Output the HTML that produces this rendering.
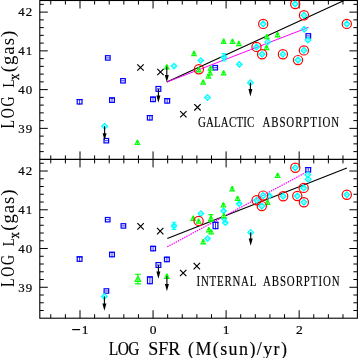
<!DOCTYPE html>
<html><head><meta charset="utf-8"><style>
html,body{margin:0;padding:0;background:#fff;width:358px;height:358px;overflow:hidden}
svg{display:block}
text{font-family:"Liberation Serif",serif}
</style></head><body>
<svg width="358" height="358" viewBox="0 0 358 358" shape-rendering="auto">
<rect width="358" height="358" fill="#fff"/>
<rect x="39.8" y="0.5" width="317.59999999999997" height="317.7" fill="none" stroke="#000" stroke-width="1.1"/>
<line x1="39.80" y1="159.40" x2="357.40" y2="159.40" stroke="#000" stroke-width="1.1" />
<line x1="50.78" y1="0.50" x2="50.78" y2="4.50" stroke="#000" stroke-width="1.0" />
<line x1="50.78" y1="159.40" x2="50.78" y2="155.40" stroke="#000" stroke-width="1.0" />
<line x1="50.78" y1="159.40" x2="50.78" y2="163.40" stroke="#000" stroke-width="1.0" />
<line x1="50.78" y1="318.20" x2="50.78" y2="314.20" stroke="#000" stroke-width="1.0" />
<line x1="65.39" y1="0.50" x2="65.39" y2="4.50" stroke="#000" stroke-width="1.0" />
<line x1="65.39" y1="159.40" x2="65.39" y2="155.40" stroke="#000" stroke-width="1.0" />
<line x1="65.39" y1="159.40" x2="65.39" y2="163.40" stroke="#000" stroke-width="1.0" />
<line x1="65.39" y1="318.20" x2="65.39" y2="314.20" stroke="#000" stroke-width="1.0" />
<line x1="80.00" y1="0.50" x2="80.00" y2="8.50" stroke="#000" stroke-width="1.0" />
<line x1="80.00" y1="159.40" x2="80.00" y2="151.40" stroke="#000" stroke-width="1.0" />
<line x1="80.00" y1="159.40" x2="80.00" y2="167.40" stroke="#000" stroke-width="1.0" />
<line x1="80.00" y1="318.20" x2="80.00" y2="310.20" stroke="#000" stroke-width="1.0" />
<line x1="94.61" y1="0.50" x2="94.61" y2="4.50" stroke="#000" stroke-width="1.0" />
<line x1="94.61" y1="159.40" x2="94.61" y2="155.40" stroke="#000" stroke-width="1.0" />
<line x1="94.61" y1="159.40" x2="94.61" y2="163.40" stroke="#000" stroke-width="1.0" />
<line x1="94.61" y1="318.20" x2="94.61" y2="314.20" stroke="#000" stroke-width="1.0" />
<line x1="109.22" y1="0.50" x2="109.22" y2="4.50" stroke="#000" stroke-width="1.0" />
<line x1="109.22" y1="159.40" x2="109.22" y2="155.40" stroke="#000" stroke-width="1.0" />
<line x1="109.22" y1="159.40" x2="109.22" y2="163.40" stroke="#000" stroke-width="1.0" />
<line x1="109.22" y1="318.20" x2="109.22" y2="314.20" stroke="#000" stroke-width="1.0" />
<line x1="123.83" y1="0.50" x2="123.83" y2="4.50" stroke="#000" stroke-width="1.0" />
<line x1="123.83" y1="159.40" x2="123.83" y2="155.40" stroke="#000" stroke-width="1.0" />
<line x1="123.83" y1="159.40" x2="123.83" y2="163.40" stroke="#000" stroke-width="1.0" />
<line x1="123.83" y1="318.20" x2="123.83" y2="314.20" stroke="#000" stroke-width="1.0" />
<line x1="138.44" y1="0.50" x2="138.44" y2="4.50" stroke="#000" stroke-width="1.0" />
<line x1="138.44" y1="159.40" x2="138.44" y2="155.40" stroke="#000" stroke-width="1.0" />
<line x1="138.44" y1="159.40" x2="138.44" y2="163.40" stroke="#000" stroke-width="1.0" />
<line x1="138.44" y1="318.20" x2="138.44" y2="314.20" stroke="#000" stroke-width="1.0" />
<line x1="153.05" y1="0.50" x2="153.05" y2="8.50" stroke="#000" stroke-width="1.0" />
<line x1="153.05" y1="159.40" x2="153.05" y2="151.40" stroke="#000" stroke-width="1.0" />
<line x1="153.05" y1="159.40" x2="153.05" y2="167.40" stroke="#000" stroke-width="1.0" />
<line x1="153.05" y1="318.20" x2="153.05" y2="310.20" stroke="#000" stroke-width="1.0" />
<line x1="167.66" y1="0.50" x2="167.66" y2="4.50" stroke="#000" stroke-width="1.0" />
<line x1="167.66" y1="159.40" x2="167.66" y2="155.40" stroke="#000" stroke-width="1.0" />
<line x1="167.66" y1="159.40" x2="167.66" y2="163.40" stroke="#000" stroke-width="1.0" />
<line x1="167.66" y1="318.20" x2="167.66" y2="314.20" stroke="#000" stroke-width="1.0" />
<line x1="182.27" y1="0.50" x2="182.27" y2="4.50" stroke="#000" stroke-width="1.0" />
<line x1="182.27" y1="159.40" x2="182.27" y2="155.40" stroke="#000" stroke-width="1.0" />
<line x1="182.27" y1="159.40" x2="182.27" y2="163.40" stroke="#000" stroke-width="1.0" />
<line x1="182.27" y1="318.20" x2="182.27" y2="314.20" stroke="#000" stroke-width="1.0" />
<line x1="196.88" y1="0.50" x2="196.88" y2="4.50" stroke="#000" stroke-width="1.0" />
<line x1="196.88" y1="159.40" x2="196.88" y2="155.40" stroke="#000" stroke-width="1.0" />
<line x1="196.88" y1="159.40" x2="196.88" y2="163.40" stroke="#000" stroke-width="1.0" />
<line x1="196.88" y1="318.20" x2="196.88" y2="314.20" stroke="#000" stroke-width="1.0" />
<line x1="211.49" y1="0.50" x2="211.49" y2="4.50" stroke="#000" stroke-width="1.0" />
<line x1="211.49" y1="159.40" x2="211.49" y2="155.40" stroke="#000" stroke-width="1.0" />
<line x1="211.49" y1="159.40" x2="211.49" y2="163.40" stroke="#000" stroke-width="1.0" />
<line x1="211.49" y1="318.20" x2="211.49" y2="314.20" stroke="#000" stroke-width="1.0" />
<line x1="226.10" y1="0.50" x2="226.10" y2="8.50" stroke="#000" stroke-width="1.0" />
<line x1="226.10" y1="159.40" x2="226.10" y2="151.40" stroke="#000" stroke-width="1.0" />
<line x1="226.10" y1="159.40" x2="226.10" y2="167.40" stroke="#000" stroke-width="1.0" />
<line x1="226.10" y1="318.20" x2="226.10" y2="310.20" stroke="#000" stroke-width="1.0" />
<line x1="240.71" y1="0.50" x2="240.71" y2="4.50" stroke="#000" stroke-width="1.0" />
<line x1="240.71" y1="159.40" x2="240.71" y2="155.40" stroke="#000" stroke-width="1.0" />
<line x1="240.71" y1="159.40" x2="240.71" y2="163.40" stroke="#000" stroke-width="1.0" />
<line x1="240.71" y1="318.20" x2="240.71" y2="314.20" stroke="#000" stroke-width="1.0" />
<line x1="255.32" y1="0.50" x2="255.32" y2="4.50" stroke="#000" stroke-width="1.0" />
<line x1="255.32" y1="159.40" x2="255.32" y2="155.40" stroke="#000" stroke-width="1.0" />
<line x1="255.32" y1="159.40" x2="255.32" y2="163.40" stroke="#000" stroke-width="1.0" />
<line x1="255.32" y1="318.20" x2="255.32" y2="314.20" stroke="#000" stroke-width="1.0" />
<line x1="269.93" y1="0.50" x2="269.93" y2="4.50" stroke="#000" stroke-width="1.0" />
<line x1="269.93" y1="159.40" x2="269.93" y2="155.40" stroke="#000" stroke-width="1.0" />
<line x1="269.93" y1="159.40" x2="269.93" y2="163.40" stroke="#000" stroke-width="1.0" />
<line x1="269.93" y1="318.20" x2="269.93" y2="314.20" stroke="#000" stroke-width="1.0" />
<line x1="284.54" y1="0.50" x2="284.54" y2="4.50" stroke="#000" stroke-width="1.0" />
<line x1="284.54" y1="159.40" x2="284.54" y2="155.40" stroke="#000" stroke-width="1.0" />
<line x1="284.54" y1="159.40" x2="284.54" y2="163.40" stroke="#000" stroke-width="1.0" />
<line x1="284.54" y1="318.20" x2="284.54" y2="314.20" stroke="#000" stroke-width="1.0" />
<line x1="299.15" y1="0.50" x2="299.15" y2="8.50" stroke="#000" stroke-width="1.0" />
<line x1="299.15" y1="159.40" x2="299.15" y2="151.40" stroke="#000" stroke-width="1.0" />
<line x1="299.15" y1="159.40" x2="299.15" y2="167.40" stroke="#000" stroke-width="1.0" />
<line x1="299.15" y1="318.20" x2="299.15" y2="310.20" stroke="#000" stroke-width="1.0" />
<line x1="313.76" y1="0.50" x2="313.76" y2="4.50" stroke="#000" stroke-width="1.0" />
<line x1="313.76" y1="159.40" x2="313.76" y2="155.40" stroke="#000" stroke-width="1.0" />
<line x1="313.76" y1="159.40" x2="313.76" y2="163.40" stroke="#000" stroke-width="1.0" />
<line x1="313.76" y1="318.20" x2="313.76" y2="314.20" stroke="#000" stroke-width="1.0" />
<line x1="328.37" y1="0.50" x2="328.37" y2="4.50" stroke="#000" stroke-width="1.0" />
<line x1="328.37" y1="159.40" x2="328.37" y2="155.40" stroke="#000" stroke-width="1.0" />
<line x1="328.37" y1="159.40" x2="328.37" y2="163.40" stroke="#000" stroke-width="1.0" />
<line x1="328.37" y1="318.20" x2="328.37" y2="314.20" stroke="#000" stroke-width="1.0" />
<line x1="342.98" y1="0.50" x2="342.98" y2="4.50" stroke="#000" stroke-width="1.0" />
<line x1="342.98" y1="159.40" x2="342.98" y2="155.40" stroke="#000" stroke-width="1.0" />
<line x1="342.98" y1="159.40" x2="342.98" y2="163.40" stroke="#000" stroke-width="1.0" />
<line x1="342.98" y1="318.20" x2="342.98" y2="314.20" stroke="#000" stroke-width="1.0" />
<line x1="39.80" y1="151.62" x2="43.80" y2="151.62" stroke="#000" stroke-width="1.0" />
<line x1="357.40" y1="151.62" x2="353.40" y2="151.62" stroke="#000" stroke-width="1.0" />
<line x1="39.80" y1="143.87" x2="43.80" y2="143.87" stroke="#000" stroke-width="1.0" />
<line x1="357.40" y1="143.87" x2="353.40" y2="143.87" stroke="#000" stroke-width="1.0" />
<line x1="39.80" y1="136.12" x2="43.80" y2="136.12" stroke="#000" stroke-width="1.0" />
<line x1="357.40" y1="136.12" x2="353.40" y2="136.12" stroke="#000" stroke-width="1.0" />
<line x1="39.80" y1="128.37" x2="47.80" y2="128.37" stroke="#000" stroke-width="1.0" />
<line x1="357.40" y1="128.37" x2="349.40" y2="128.37" stroke="#000" stroke-width="1.0" />
<line x1="39.80" y1="120.62" x2="43.80" y2="120.62" stroke="#000" stroke-width="1.0" />
<line x1="357.40" y1="120.62" x2="353.40" y2="120.62" stroke="#000" stroke-width="1.0" />
<line x1="39.80" y1="112.87" x2="43.80" y2="112.87" stroke="#000" stroke-width="1.0" />
<line x1="357.40" y1="112.87" x2="353.40" y2="112.87" stroke="#000" stroke-width="1.0" />
<line x1="39.80" y1="105.12" x2="43.80" y2="105.12" stroke="#000" stroke-width="1.0" />
<line x1="357.40" y1="105.12" x2="353.40" y2="105.12" stroke="#000" stroke-width="1.0" />
<line x1="39.80" y1="97.38" x2="43.80" y2="97.38" stroke="#000" stroke-width="1.0" />
<line x1="357.40" y1="97.38" x2="353.40" y2="97.38" stroke="#000" stroke-width="1.0" />
<line x1="39.80" y1="89.62" x2="47.80" y2="89.62" stroke="#000" stroke-width="1.0" />
<line x1="357.40" y1="89.62" x2="349.40" y2="89.62" stroke="#000" stroke-width="1.0" />
<line x1="39.80" y1="81.87" x2="43.80" y2="81.87" stroke="#000" stroke-width="1.0" />
<line x1="357.40" y1="81.87" x2="353.40" y2="81.87" stroke="#000" stroke-width="1.0" />
<line x1="39.80" y1="74.12" x2="43.80" y2="74.12" stroke="#000" stroke-width="1.0" />
<line x1="357.40" y1="74.12" x2="353.40" y2="74.12" stroke="#000" stroke-width="1.0" />
<line x1="39.80" y1="66.37" x2="43.80" y2="66.37" stroke="#000" stroke-width="1.0" />
<line x1="357.40" y1="66.37" x2="353.40" y2="66.37" stroke="#000" stroke-width="1.0" />
<line x1="39.80" y1="58.62" x2="43.80" y2="58.62" stroke="#000" stroke-width="1.0" />
<line x1="357.40" y1="58.62" x2="353.40" y2="58.62" stroke="#000" stroke-width="1.0" />
<line x1="39.80" y1="50.87" x2="47.80" y2="50.87" stroke="#000" stroke-width="1.0" />
<line x1="357.40" y1="50.87" x2="349.40" y2="50.87" stroke="#000" stroke-width="1.0" />
<line x1="39.80" y1="43.12" x2="43.80" y2="43.12" stroke="#000" stroke-width="1.0" />
<line x1="357.40" y1="43.12" x2="353.40" y2="43.12" stroke="#000" stroke-width="1.0" />
<line x1="39.80" y1="35.37" x2="43.80" y2="35.37" stroke="#000" stroke-width="1.0" />
<line x1="357.40" y1="35.37" x2="353.40" y2="35.37" stroke="#000" stroke-width="1.0" />
<line x1="39.80" y1="27.62" x2="43.80" y2="27.62" stroke="#000" stroke-width="1.0" />
<line x1="357.40" y1="27.62" x2="353.40" y2="27.62" stroke="#000" stroke-width="1.0" />
<line x1="39.80" y1="19.88" x2="43.80" y2="19.88" stroke="#000" stroke-width="1.0" />
<line x1="357.40" y1="19.88" x2="353.40" y2="19.88" stroke="#000" stroke-width="1.0" />
<line x1="39.80" y1="12.12" x2="47.80" y2="12.12" stroke="#000" stroke-width="1.0" />
<line x1="357.40" y1="12.12" x2="349.40" y2="12.12" stroke="#000" stroke-width="1.0" />
<line x1="39.80" y1="4.37" x2="43.80" y2="4.37" stroke="#000" stroke-width="1.0" />
<line x1="357.40" y1="4.37" x2="353.40" y2="4.37" stroke="#000" stroke-width="1.0" />
<line x1="39.80" y1="310.52" x2="43.80" y2="310.52" stroke="#000" stroke-width="1.0" />
<line x1="357.40" y1="310.52" x2="353.40" y2="310.52" stroke="#000" stroke-width="1.0" />
<line x1="39.80" y1="302.77" x2="43.80" y2="302.77" stroke="#000" stroke-width="1.0" />
<line x1="357.40" y1="302.77" x2="353.40" y2="302.77" stroke="#000" stroke-width="1.0" />
<line x1="39.80" y1="295.02" x2="43.80" y2="295.02" stroke="#000" stroke-width="1.0" />
<line x1="357.40" y1="295.02" x2="353.40" y2="295.02" stroke="#000" stroke-width="1.0" />
<line x1="39.80" y1="287.27" x2="47.80" y2="287.27" stroke="#000" stroke-width="1.0" />
<line x1="357.40" y1="287.27" x2="349.40" y2="287.27" stroke="#000" stroke-width="1.0" />
<line x1="39.80" y1="279.52" x2="43.80" y2="279.52" stroke="#000" stroke-width="1.0" />
<line x1="357.40" y1="279.52" x2="353.40" y2="279.52" stroke="#000" stroke-width="1.0" />
<line x1="39.80" y1="271.77" x2="43.80" y2="271.77" stroke="#000" stroke-width="1.0" />
<line x1="357.40" y1="271.77" x2="353.40" y2="271.77" stroke="#000" stroke-width="1.0" />
<line x1="39.80" y1="264.02" x2="43.80" y2="264.02" stroke="#000" stroke-width="1.0" />
<line x1="357.40" y1="264.02" x2="353.40" y2="264.02" stroke="#000" stroke-width="1.0" />
<line x1="39.80" y1="256.27" x2="43.80" y2="256.27" stroke="#000" stroke-width="1.0" />
<line x1="357.40" y1="256.27" x2="353.40" y2="256.27" stroke="#000" stroke-width="1.0" />
<line x1="39.80" y1="248.52" x2="47.80" y2="248.52" stroke="#000" stroke-width="1.0" />
<line x1="357.40" y1="248.52" x2="349.40" y2="248.52" stroke="#000" stroke-width="1.0" />
<line x1="39.80" y1="240.77" x2="43.80" y2="240.77" stroke="#000" stroke-width="1.0" />
<line x1="357.40" y1="240.77" x2="353.40" y2="240.77" stroke="#000" stroke-width="1.0" />
<line x1="39.80" y1="233.02" x2="43.80" y2="233.02" stroke="#000" stroke-width="1.0" />
<line x1="357.40" y1="233.02" x2="353.40" y2="233.02" stroke="#000" stroke-width="1.0" />
<line x1="39.80" y1="225.27" x2="43.80" y2="225.27" stroke="#000" stroke-width="1.0" />
<line x1="357.40" y1="225.27" x2="353.40" y2="225.27" stroke="#000" stroke-width="1.0" />
<line x1="39.80" y1="217.53" x2="43.80" y2="217.53" stroke="#000" stroke-width="1.0" />
<line x1="357.40" y1="217.53" x2="353.40" y2="217.53" stroke="#000" stroke-width="1.0" />
<line x1="39.80" y1="209.77" x2="47.80" y2="209.77" stroke="#000" stroke-width="1.0" />
<line x1="357.40" y1="209.77" x2="349.40" y2="209.77" stroke="#000" stroke-width="1.0" />
<line x1="39.80" y1="202.02" x2="43.80" y2="202.02" stroke="#000" stroke-width="1.0" />
<line x1="357.40" y1="202.02" x2="353.40" y2="202.02" stroke="#000" stroke-width="1.0" />
<line x1="39.80" y1="194.27" x2="43.80" y2="194.27" stroke="#000" stroke-width="1.0" />
<line x1="357.40" y1="194.27" x2="353.40" y2="194.27" stroke="#000" stroke-width="1.0" />
<line x1="39.80" y1="186.52" x2="43.80" y2="186.52" stroke="#000" stroke-width="1.0" />
<line x1="357.40" y1="186.52" x2="353.40" y2="186.52" stroke="#000" stroke-width="1.0" />
<line x1="39.80" y1="178.78" x2="43.80" y2="178.78" stroke="#000" stroke-width="1.0" />
<line x1="357.40" y1="178.78" x2="353.40" y2="178.78" stroke="#000" stroke-width="1.0" />
<line x1="39.80" y1="171.02" x2="47.80" y2="171.02" stroke="#000" stroke-width="1.0" />
<line x1="357.40" y1="171.02" x2="349.40" y2="171.02" stroke="#000" stroke-width="1.0" />
<line x1="39.80" y1="163.27" x2="43.80" y2="163.27" stroke="#000" stroke-width="1.0" />
<line x1="357.40" y1="163.27" x2="353.40" y2="163.27" stroke="#000" stroke-width="1.0" />
<line x1="72.2" y1="329.6" x2="80.1" y2="329.6" stroke="#000" stroke-width="1.2"/>
<line x1="166.90" y1="82.00" x2="343.50" y2="0.70" stroke="#000" stroke-width="1.2" />
<line x1="166.90" y1="82.00" x2="308.60" y2="27.30" stroke="#ff00ff" stroke-width="1.0" />
<line x1="167.30" y1="238.50" x2="346.90" y2="168.00" stroke="#000" stroke-width="1.2" />
<line x1="167.30" y1="246.80" x2="306.10" y2="172.30" stroke="#ff00ff" stroke-width="1.3" stroke-dasharray="1.4,1.0"/>
<rect x="105.50" y="55.70" width="4.60" height="4.40" fill="none" stroke="#0000ff" stroke-width="1.2"/>
<line x1="106.00" y1="57.90" x2="109.60" y2="57.90" stroke="#0000ff" stroke-width="0.8"/>
<rect x="120.70" y="78.60" width="4.60" height="4.40" fill="none" stroke="#0000ff" stroke-width="1.2"/>
<line x1="121.20" y1="80.80" x2="124.80" y2="80.80" stroke="#0000ff" stroke-width="0.8"/>
<rect x="104.00" y="138.50" width="4.60" height="4.40" fill="none" stroke="#0000ff" stroke-width="1.2"/>
<line x1="104.50" y1="140.70" x2="108.10" y2="140.70" stroke="#0000ff" stroke-width="0.8"/>
<rect x="212.90" y="65.50" width="4.60" height="4.40" fill="none" stroke="#0000ff" stroke-width="1.2"/>
<line x1="213.40" y1="67.70" x2="217.00" y2="67.70" stroke="#0000ff" stroke-width="0.8"/>
<rect x="306.00" y="33.70" width="4.60" height="4.40" fill="none" stroke="#0000ff" stroke-width="1.2"/>
<line x1="306.50" y1="35.90" x2="310.10" y2="35.90" stroke="#0000ff" stroke-width="0.8"/>
<rect x="77.20" y="99.60" width="4.80" height="4.40" fill="none" stroke="#0000ff" stroke-width="1.2"/>
<line x1="79.60" y1="99.00" x2="79.60" y2="104.60" stroke="#0000ff" stroke-width="0.8"/>
<line x1="76.60" y1="99.50" x2="82.60" y2="99.50" stroke="#0000ff" stroke-width="1.0"/>
<rect x="109.60" y="98.00" width="4.80" height="4.40" fill="none" stroke="#0000ff" stroke-width="1.2"/>
<line x1="112.00" y1="97.40" x2="112.00" y2="103.00" stroke="#0000ff" stroke-width="0.8"/>
<line x1="109.00" y1="97.90" x2="115.00" y2="97.90" stroke="#0000ff" stroke-width="1.0"/>
<rect x="150.60" y="97.20" width="4.80" height="4.40" fill="none" stroke="#0000ff" stroke-width="1.2"/>
<line x1="153.00" y1="96.60" x2="153.00" y2="102.20" stroke="#0000ff" stroke-width="0.8"/>
<line x1="150.00" y1="97.10" x2="156.00" y2="97.10" stroke="#0000ff" stroke-width="1.0"/>
<rect x="164.80" y="98.70" width="4.80" height="4.40" fill="none" stroke="#0000ff" stroke-width="1.2"/>
<line x1="167.20" y1="98.10" x2="167.20" y2="103.70" stroke="#0000ff" stroke-width="0.8"/>
<line x1="164.20" y1="98.60" x2="170.20" y2="98.60" stroke="#0000ff" stroke-width="1.0"/>
<rect x="147.40" y="115.60" width="4.80" height="4.40" fill="none" stroke="#0000ff" stroke-width="1.2"/>
<line x1="149.80" y1="115.00" x2="149.80" y2="120.60" stroke="#0000ff" stroke-width="0.8"/>
<line x1="146.80" y1="115.50" x2="152.80" y2="115.50" stroke="#0000ff" stroke-width="1.0"/>
<rect x="156.00" y="86.50" width="4.8" height="4.8" fill="none" stroke="#0000ff" stroke-width="1.2"/>
<line x1="156.90" y1="88.90" x2="159.90" y2="88.90" stroke="#0000ff" stroke-width="0.9"/>
<line x1="158.40" y1="88.90" x2="158.40" y2="97.50" stroke="#000" stroke-width="1.1"/>
<path d="M156.40 95.50L160.40 95.50L158.40 102.80Z" fill="#000"/>
<path d="M174.00 63.50L176.60 66.10L174.00 68.70L171.40 66.10Z" fill="none" stroke="#00ffff" stroke-width="1.4"/>
<line x1="172.60" y1="66.10" x2="175.40" y2="66.10" stroke="#00ffff" stroke-width="0.8"/>
<path d="M200.80 57.90L203.40 60.50L200.80 63.10L198.20 60.50Z" fill="none" stroke="#00ffff" stroke-width="1.4"/>
<line x1="199.40" y1="60.50" x2="202.20" y2="60.50" stroke="#00ffff" stroke-width="0.8"/>
<path d="M239.30 61.80L241.90 64.40L239.30 67.00L236.70 64.40Z" fill="none" stroke="#00ffff" stroke-width="1.4"/>
<line x1="237.90" y1="64.40" x2="240.70" y2="64.40" stroke="#00ffff" stroke-width="0.8"/>
<path d="M223.90 53.60V61.00M221.40 53.60H226.40M221.40 61.00H226.40" stroke="#00ffff" stroke-width="1.1" fill="none"/>
<path d="M223.90 54.70L226.50 57.30L223.90 59.90L221.30 57.30Z" fill="none" stroke="#00ffff" stroke-width="1.4"/>
<line x1="222.50" y1="57.30" x2="225.30" y2="57.30" stroke="#00ffff" stroke-width="0.8"/>
<path d="M104.60 123.50L107.40 126.30L104.60 129.10L101.80 126.30Z" fill="none" stroke="#00ffff" stroke-width="1.3"/>
<rect x="103.60" y="125.80" width="2.0" height="1.0" fill="#00ffff"/>
<path d="M207.50 94.70L210.30 97.50L207.50 100.30L204.70 97.50Z" fill="none" stroke="#00ffff" stroke-width="1.3"/>
<rect x="206.50" y="97.00" width="2.0" height="1.0" fill="#00ffff"/>
<path d="M250.40 79.90L253.20 82.70L250.40 85.50L247.60 82.70Z" fill="none" stroke="#00ffff" stroke-width="1.3"/>
<rect x="249.40" y="82.20" width="2.0" height="1.0" fill="#00ffff"/>
<path d="M267.80 39.10L270.60 41.90L267.80 44.70L265.00 41.90Z" fill="none" stroke="#00ffff" stroke-width="1.3"/>
<rect x="266.80" y="41.40" width="2.0" height="1.0" fill="#00ffff"/>
<path d="M304.20 26.40L307.00 29.20L304.20 32.00L301.40 29.20Z" fill="none" stroke="#00ffff" stroke-width="1.3"/>
<rect x="303.20" y="28.70" width="2.0" height="1.0" fill="#00ffff"/>
<path d="M308.00 37.20L310.80 40.00L308.00 42.80L305.20 40.00Z" fill="none" stroke="#00ffff" stroke-width="1.3"/>
<rect x="307.00" y="39.50" width="2.0" height="1.0" fill="#00ffff"/>
<line x1="104.60" y1="126.30" x2="104.60" y2="135.30" stroke="#000" stroke-width="1.1"/>
<path d="M102.60 133.30L106.60 133.30L104.60 140.60Z" fill="#000"/>
<line x1="250.40" y1="82.70" x2="250.40" y2="91.10" stroke="#000" stroke-width="1.1"/>
<path d="M248.40 89.10L252.40 89.10L250.40 96.40Z" fill="#000"/>
<path d="M136.80 139.70H138.00L140.50 145.10H134.30Z" fill="#00ff00"/>
<rect x="135.80" y="142.80" width="1.2" height="1.0" fill="#fff" opacity="0.7"/>
<rect x="137.80" y="142.80" width="1.2" height="1.0" fill="#fff" opacity="0.7"/>
<path d="M166.20 64.20H167.40L169.90 69.60H163.70Z" fill="#00ff00"/>
<rect x="165.20" y="67.30" width="1.2" height="1.0" fill="#fff" opacity="0.7"/>
<rect x="167.20" y="67.30" width="1.2" height="1.0" fill="#fff" opacity="0.7"/>
<path d="M193.40 50.80H194.60L197.10 56.20H190.90Z" fill="#00ff00"/>
<rect x="192.40" y="53.90" width="1.2" height="1.0" fill="#fff" opacity="0.7"/>
<rect x="194.40" y="53.90" width="1.2" height="1.0" fill="#fff" opacity="0.7"/>
<path d="M207.90 73.40H209.10L211.60 78.80H205.40Z" fill="#00ff00"/>
<rect x="206.90" y="76.50" width="1.2" height="1.0" fill="#fff" opacity="0.7"/>
<rect x="208.90" y="76.50" width="1.2" height="1.0" fill="#fff" opacity="0.7"/>
<path d="M202.60 79.40H203.80L206.30 84.80H200.10Z" fill="#00ff00"/>
<rect x="201.60" y="82.50" width="1.2" height="1.0" fill="#fff" opacity="0.7"/>
<rect x="203.60" y="82.50" width="1.2" height="1.0" fill="#fff" opacity="0.7"/>
<path d="M223.10 38.60H224.30L226.80 44.00H220.60Z" fill="#00ff00"/>
<rect x="222.10" y="41.70" width="1.2" height="1.0" fill="#fff" opacity="0.7"/>
<rect x="224.10" y="41.70" width="1.2" height="1.0" fill="#fff" opacity="0.7"/>
<path d="M231.90 38.70H233.10L235.60 44.10H229.40Z" fill="#00ff00"/>
<rect x="230.90" y="41.80" width="1.2" height="1.0" fill="#fff" opacity="0.7"/>
<rect x="232.90" y="41.80" width="1.2" height="1.0" fill="#fff" opacity="0.7"/>
<path d="M238.30 40.80H239.50L242.00 46.20H235.80Z" fill="#00ff00"/>
<rect x="237.30" y="43.90" width="1.2" height="1.0" fill="#fff" opacity="0.7"/>
<rect x="239.30" y="43.90" width="1.2" height="1.0" fill="#fff" opacity="0.7"/>
<path d="M266.20 33.90H267.40L269.90 39.30H263.70Z" fill="#00ff00"/>
<rect x="265.20" y="37.00" width="1.2" height="1.0" fill="#fff" opacity="0.7"/>
<rect x="267.20" y="37.00" width="1.2" height="1.0" fill="#fff" opacity="0.7"/>
<path d="M276.90 32.00H278.10L280.60 37.40H274.40Z" fill="#00ff00"/>
<rect x="275.90" y="35.10" width="1.2" height="1.0" fill="#fff" opacity="0.7"/>
<rect x="277.90" y="35.10" width="1.2" height="1.0" fill="#fff" opacity="0.7"/>
<path d="M265.90 44.80H267.10L269.60 50.20H263.40Z" fill="#00ff00"/>
<rect x="264.90" y="47.90" width="1.2" height="1.0" fill="#fff" opacity="0.7"/>
<rect x="266.90" y="47.90" width="1.2" height="1.0" fill="#fff" opacity="0.7"/>
<path d="M223.00 70.20H224.20L226.70 75.60H220.50Z" fill="#00ff00"/>
<rect x="222.00" y="73.30" width="1.2" height="1.0" fill="#fff" opacity="0.7"/>
<rect x="224.00" y="73.30" width="1.2" height="1.0" fill="#fff" opacity="0.7"/>
<path d="M209.40 70.20H210.60L213.10 75.60H206.90Z" fill="#00ff00"/>
<rect x="208.40" y="73.30" width="1.2" height="1.0" fill="#fff" opacity="0.7"/>
<rect x="210.40" y="73.30" width="1.2" height="1.0" fill="#fff" opacity="0.7"/>
<path d="M210.00 65.40H211.20L213.70 70.80H207.50Z" fill="#00ff00"/>
<rect x="209.00" y="68.50" width="1.2" height="1.0" fill="#fff" opacity="0.7"/>
<rect x="211.00" y="68.50" width="1.2" height="1.0" fill="#fff" opacity="0.7"/>
<line x1="166.80" y1="66.80" x2="166.80" y2="77.00" stroke="#000" stroke-width="1.1"/>
<path d="M164.80 75.00L168.80 75.00L166.80 82.30Z" fill="#000"/>
<path d="M198.20 67.00H199.40L201.90 72.40H195.70Z" fill="#00ff00"/>
<rect x="197.20" y="70.10" width="1.2" height="1.0" fill="#fff" opacity="0.7"/>
<rect x="199.20" y="70.10" width="1.2" height="1.0" fill="#fff" opacity="0.7"/>
<circle cx="198.90" cy="69.30" r="4.6" fill="none" stroke="#ff0000" stroke-width="1.2"/>
<path d="M263.20 21.10L266.00 23.90L263.20 26.70L260.40 23.90Z" fill="none" stroke="#00ffff" stroke-width="1.4"/>
<line x1="261.80" y1="23.90" x2="264.60" y2="23.90" stroke="#00ffff" stroke-width="0.8"/>
<circle cx="263.20" cy="23.90" r="4.6" fill="none" stroke="#ff0000" stroke-width="1.2"/>
<path d="M256.50 44.10L259.30 46.90L256.50 49.70L253.70 46.90Z" fill="none" stroke="#00ffff" stroke-width="1.4"/>
<line x1="255.10" y1="46.90" x2="257.90" y2="46.90" stroke="#00ffff" stroke-width="0.8"/>
<circle cx="256.50" cy="46.90" r="4.6" fill="none" stroke="#ff0000" stroke-width="1.2"/>
<path d="M262.10 51.50L264.90 54.30L262.10 57.10L259.30 54.30Z" fill="none" stroke="#00ffff" stroke-width="1.4"/>
<line x1="260.70" y1="54.30" x2="263.50" y2="54.30" stroke="#00ffff" stroke-width="0.8"/>
<circle cx="262.10" cy="54.30" r="4.6" fill="none" stroke="#ff0000" stroke-width="1.2"/>
<path d="M282.90 51.50L285.70 54.30L282.90 57.10L280.10 54.30Z" fill="none" stroke="#00ffff" stroke-width="1.4"/>
<line x1="281.50" y1="54.30" x2="284.30" y2="54.30" stroke="#00ffff" stroke-width="0.8"/>
<circle cx="282.90" cy="54.30" r="4.6" fill="none" stroke="#ff0000" stroke-width="1.2"/>
<path d="M295.20 1.20L298.00 4.00L295.20 6.80L292.40 4.00Z" fill="none" stroke="#00ffff" stroke-width="1.4"/>
<line x1="293.80" y1="4.00" x2="296.60" y2="4.00" stroke="#00ffff" stroke-width="0.8"/>
<circle cx="295.20" cy="4.00" r="4.6" fill="none" stroke="#ff0000" stroke-width="1.2"/>
<path d="M304.00 12.40L306.80 15.20L304.00 18.00L301.20 15.20Z" fill="none" stroke="#00ffff" stroke-width="1.4"/>
<line x1="302.60" y1="15.20" x2="305.40" y2="15.20" stroke="#00ffff" stroke-width="0.8"/>
<circle cx="304.00" cy="15.20" r="4.6" fill="none" stroke="#ff0000" stroke-width="1.2"/>
<path d="M346.80 21.10L349.60 23.90L346.80 26.70L344.00 23.90Z" fill="none" stroke="#00ffff" stroke-width="1.4"/>
<line x1="345.40" y1="23.90" x2="348.20" y2="23.90" stroke="#00ffff" stroke-width="0.8"/>
<circle cx="346.80" cy="23.90" r="4.6" fill="none" stroke="#ff0000" stroke-width="1.2"/>
<path d="M303.90 47.60L306.70 50.40L303.90 53.20L301.10 50.40Z" fill="none" stroke="#00ffff" stroke-width="1.4"/>
<line x1="302.50" y1="50.40" x2="305.30" y2="50.40" stroke="#00ffff" stroke-width="0.8"/>
<circle cx="303.90" cy="50.40" r="4.6" fill="none" stroke="#ff0000" stroke-width="1.2"/>
<path d="M298.00 57.30L300.80 60.10L298.00 62.90L295.20 60.10Z" fill="none" stroke="#00ffff" stroke-width="1.4"/>
<line x1="296.60" y1="60.10" x2="299.40" y2="60.10" stroke="#00ffff" stroke-width="0.8"/>
<circle cx="298.00" cy="60.10" r="4.6" fill="none" stroke="#ff0000" stroke-width="1.2"/>
<path d="M137.30 64.30L143.70 70.70M143.70 64.30L137.30 70.70" stroke="#000" stroke-width="1.2" fill="none"/>
<path d="M157.30 68.80L163.70 75.20M163.70 68.80L157.30 75.20" stroke="#000" stroke-width="1.2" fill="none"/>
<path d="M180.15 111.05L186.55 117.45M186.55 111.05L180.15 117.45" stroke="#000" stroke-width="1.2" fill="none"/>
<path d="M194.30 104.10L200.70 110.50M200.70 104.10L194.30 110.50" stroke="#000" stroke-width="1.2" fill="none"/>
<rect x="105.40" y="217.50" width="4.60" height="4.40" fill="none" stroke="#0000ff" stroke-width="1.2"/>
<line x1="105.90" y1="219.70" x2="109.50" y2="219.70" stroke="#0000ff" stroke-width="0.8"/>
<rect x="121.10" y="223.70" width="4.60" height="4.40" fill="none" stroke="#0000ff" stroke-width="1.2"/>
<line x1="121.60" y1="225.90" x2="125.20" y2="225.90" stroke="#0000ff" stroke-width="0.8"/>
<rect x="104.10" y="288.80" width="4.60" height="4.40" fill="none" stroke="#0000ff" stroke-width="1.2"/>
<line x1="104.60" y1="291.00" x2="108.20" y2="291.00" stroke="#0000ff" stroke-width="0.8"/>
<rect x="77.20" y="256.90" width="4.80" height="4.40" fill="none" stroke="#0000ff" stroke-width="1.2"/>
<line x1="79.60" y1="256.30" x2="79.60" y2="261.90" stroke="#0000ff" stroke-width="0.8"/>
<line x1="76.60" y1="256.80" x2="82.60" y2="256.80" stroke="#0000ff" stroke-width="1.0"/>
<rect x="109.60" y="252.40" width="4.80" height="4.40" fill="none" stroke="#0000ff" stroke-width="1.2"/>
<line x1="112.00" y1="251.80" x2="112.00" y2="257.40" stroke="#0000ff" stroke-width="0.8"/>
<line x1="109.00" y1="252.30" x2="115.00" y2="252.30" stroke="#0000ff" stroke-width="1.0"/>
<rect x="150.70" y="246.40" width="4.80" height="4.40" fill="none" stroke="#0000ff" stroke-width="1.2"/>
<line x1="153.10" y1="245.80" x2="153.10" y2="251.40" stroke="#0000ff" stroke-width="0.8"/>
<line x1="150.10" y1="246.30" x2="156.10" y2="246.30" stroke="#0000ff" stroke-width="1.0"/>
<rect x="164.50" y="257.30" width="4.80" height="4.40" fill="none" stroke="#0000ff" stroke-width="1.2"/>
<line x1="166.90" y1="256.70" x2="166.90" y2="262.30" stroke="#0000ff" stroke-width="0.8"/>
<line x1="163.90" y1="257.20" x2="169.90" y2="257.20" stroke="#0000ff" stroke-width="1.0"/>
<rect x="305.80" y="167.60" width="4.80" height="4.40" fill="none" stroke="#0000ff" stroke-width="1.2"/>
<line x1="308.20" y1="167.00" x2="308.20" y2="172.60" stroke="#0000ff" stroke-width="0.8"/>
<line x1="305.20" y1="167.50" x2="311.20" y2="167.50" stroke="#0000ff" stroke-width="1.0"/>
<rect x="147.50" y="277.00" width="4.80" height="6.70" fill="none" stroke="#0000ff" stroke-width="1.2"/>
<line x1="149.90" y1="276.40" x2="149.90" y2="284.30" stroke="#0000ff" stroke-width="0.8"/>
<line x1="146.90" y1="276.90" x2="152.90" y2="276.90" stroke="#0000ff" stroke-width="1.0"/>
<rect x="213.10" y="222.35" width="4.80" height="6.30" fill="none" stroke="#0000ff" stroke-width="1.2"/>
<line x1="215.50" y1="221.75" x2="215.50" y2="229.25" stroke="#0000ff" stroke-width="0.8"/>
<line x1="212.50" y1="222.25" x2="218.50" y2="222.25" stroke="#0000ff" stroke-width="1.0"/>
<rect x="156.00" y="262.60" width="4.8" height="4.8" fill="none" stroke="#0000ff" stroke-width="1.2"/>
<line x1="156.90" y1="265.00" x2="159.90" y2="265.00" stroke="#0000ff" stroke-width="0.9"/>
<line x1="158.40" y1="265.00" x2="158.40" y2="273.40" stroke="#000" stroke-width="1.1"/>
<path d="M156.40 271.40L160.40 271.40L158.40 278.70Z" fill="#000"/>
<path d="M174.00 222.20V229.40M171.70 222.20H176.30M171.70 229.40H176.30" stroke="#00ffff" stroke-width="1.1" fill="none"/>
<path d="M174.00 223.20L176.60 225.80L174.00 228.40L171.40 225.80Z" fill="none" stroke="#00ffff" stroke-width="1.4"/>
<line x1="172.60" y1="225.80" x2="175.40" y2="225.80" stroke="#00ffff" stroke-width="0.8"/>
<path d="M200.90 211.00L203.50 213.60L200.90 216.20L198.30 213.60Z" fill="none" stroke="#00ffff" stroke-width="1.4"/>
<line x1="199.50" y1="213.60" x2="202.30" y2="213.60" stroke="#00ffff" stroke-width="0.8"/>
<path d="M223.60 208.30L226.20 210.90L223.60 213.50L221.00 210.90Z" fill="none" stroke="#00ffff" stroke-width="1.4"/>
<line x1="222.20" y1="210.90" x2="225.00" y2="210.90" stroke="#00ffff" stroke-width="0.8"/>
<path d="M224.10 215.80L226.70 218.40L224.10 221.00L221.50 218.40Z" fill="none" stroke="#00ffff" stroke-width="1.4"/>
<line x1="222.70" y1="218.40" x2="225.50" y2="218.40" stroke="#00ffff" stroke-width="0.8"/>
<path d="M225.30 220.10L227.90 222.70L225.30 225.30L222.70 222.70Z" fill="none" stroke="#00ffff" stroke-width="1.4"/>
<line x1="223.90" y1="222.70" x2="226.70" y2="222.70" stroke="#00ffff" stroke-width="0.8"/>
<path d="M239.20 201.10L241.80 203.70L239.20 206.30L236.60 203.70Z" fill="none" stroke="#00ffff" stroke-width="1.4"/>
<line x1="237.80" y1="203.70" x2="240.60" y2="203.70" stroke="#00ffff" stroke-width="0.8"/>
<path d="M207.60 236.00L210.20 238.60L207.60 241.20L205.00 238.60Z" fill="none" stroke="#00ffff" stroke-width="1.4"/>
<line x1="206.20" y1="238.60" x2="209.00" y2="238.60" stroke="#00ffff" stroke-width="0.8"/>
<path d="M269.30 193.10L271.90 195.70L269.30 198.30L266.70 195.70Z" fill="none" stroke="#00ffff" stroke-width="1.4"/>
<line x1="267.90" y1="195.70" x2="270.70" y2="195.70" stroke="#00ffff" stroke-width="0.8"/>
<path d="M104.40 293.70L107.20 296.50L104.40 299.30L101.60 296.50Z" fill="none" stroke="#00ffff" stroke-width="1.3"/>
<rect x="103.40" y="296.00" width="2.0" height="1.0" fill="#00ffff"/>
<path d="M250.70 229.60L253.50 232.40L250.70 235.20L247.90 232.40Z" fill="none" stroke="#00ffff" stroke-width="1.3"/>
<rect x="249.70" y="231.90" width="2.0" height="1.0" fill="#00ffff"/>
<path d="M307.80 171.90L310.60 174.70L307.80 177.50L305.00 174.70Z" fill="none" stroke="#00ffff" stroke-width="1.3"/>
<rect x="306.80" y="174.20" width="2.0" height="1.0" fill="#00ffff"/>
<path d="M308.20 176.40L311.00 179.20L308.20 182.00L305.40 179.20Z" fill="none" stroke="#00ffff" stroke-width="1.3"/>
<rect x="307.20" y="178.70" width="2.0" height="1.0" fill="#00ffff"/>
<line x1="104.40" y1="296.50" x2="104.40" y2="305.40" stroke="#000" stroke-width="1.1"/>
<path d="M102.40 303.40L106.40 303.40L104.40 310.70Z" fill="#000"/>
<line x1="250.70" y1="232.40" x2="250.70" y2="240.50" stroke="#000" stroke-width="1.1"/>
<path d="M248.70 238.50L252.70 238.50L250.70 245.80Z" fill="#000"/>
<path d="M137.90 274.30V283.90M134.90 274.30H140.90M134.90 283.90H140.90" stroke="#00ff00" stroke-width="1.1" fill="none"/>
<path d="M137.90 276.40L140.70 281.40H135.10Z" fill="none" stroke="#00ff00" stroke-width="1.2"/>
<path d="M210.90 214.60V221.80M208.40 214.60H213.40M208.40 221.80H213.40" stroke="#00ff00" stroke-width="1.1" fill="none"/>
<path d="M166.30 273.60H167.50L170.00 279.00H163.80Z" fill="#00ff00"/>
<rect x="165.30" y="276.70" width="1.2" height="1.0" fill="#fff" opacity="0.7"/>
<rect x="167.30" y="276.70" width="1.2" height="1.0" fill="#fff" opacity="0.7"/>
<path d="M210.30 215.60H211.50L214.00 221.00H207.80Z" fill="#00ff00"/>
<rect x="209.30" y="218.70" width="1.2" height="1.0" fill="#fff" opacity="0.7"/>
<rect x="211.30" y="218.70" width="1.2" height="1.0" fill="#fff" opacity="0.7"/>
<path d="M208.20 227.00H209.40L211.90 232.40H205.70Z" fill="#00ff00"/>
<rect x="207.20" y="230.10" width="1.2" height="1.0" fill="#fff" opacity="0.7"/>
<rect x="209.20" y="230.10" width="1.2" height="1.0" fill="#fff" opacity="0.7"/>
<path d="M210.60 229.20H211.80L214.30 234.60H208.10Z" fill="#00ff00"/>
<rect x="209.60" y="232.30" width="1.2" height="1.0" fill="#fff" opacity="0.7"/>
<rect x="211.60" y="232.30" width="1.2" height="1.0" fill="#fff" opacity="0.7"/>
<path d="M202.60 239.00H203.80L206.30 244.40H200.10Z" fill="#00ff00"/>
<rect x="201.60" y="242.10" width="1.2" height="1.0" fill="#fff" opacity="0.7"/>
<rect x="203.60" y="242.10" width="1.2" height="1.0" fill="#fff" opacity="0.7"/>
<path d="M222.80 202.20H224.00L226.50 207.60H220.30Z" fill="#00ff00"/>
<rect x="221.80" y="205.30" width="1.2" height="1.0" fill="#fff" opacity="0.7"/>
<rect x="223.80" y="205.30" width="1.2" height="1.0" fill="#fff" opacity="0.7"/>
<path d="M223.20 213.00H224.40L226.90 218.40H220.70Z" fill="#00ff00"/>
<rect x="222.20" y="216.10" width="1.2" height="1.0" fill="#fff" opacity="0.7"/>
<rect x="224.20" y="216.10" width="1.2" height="1.0" fill="#fff" opacity="0.7"/>
<path d="M231.60 186.10H232.80L235.30 191.50H229.10Z" fill="#00ff00"/>
<rect x="230.60" y="189.20" width="1.2" height="1.0" fill="#fff" opacity="0.7"/>
<rect x="232.60" y="189.20" width="1.2" height="1.0" fill="#fff" opacity="0.7"/>
<path d="M237.00 195.70H238.20L240.70 201.10H234.50Z" fill="#00ff00"/>
<rect x="236.00" y="198.80" width="1.2" height="1.0" fill="#fff" opacity="0.7"/>
<rect x="238.00" y="198.80" width="1.2" height="1.0" fill="#fff" opacity="0.7"/>
<path d="M277.00 172.70H278.20L280.70 178.10H274.50Z" fill="#00ff00"/>
<rect x="276.00" y="175.80" width="1.2" height="1.0" fill="#fff" opacity="0.7"/>
<rect x="278.00" y="175.80" width="1.2" height="1.0" fill="#fff" opacity="0.7"/>
<path d="M267.00 199.60H268.20L270.70 205.00H264.50Z" fill="#00ff00"/>
<rect x="266.00" y="202.70" width="1.2" height="1.0" fill="#fff" opacity="0.7"/>
<rect x="268.00" y="202.70" width="1.2" height="1.0" fill="#fff" opacity="0.7"/>
<path d="M192.60 215.60H193.80L196.30 221.00H190.10Z" fill="#00ff00"/>
<rect x="191.60" y="218.70" width="1.2" height="1.0" fill="#fff" opacity="0.7"/>
<rect x="193.60" y="218.70" width="1.2" height="1.0" fill="#fff" opacity="0.7"/>
<line x1="166.90" y1="276.20" x2="166.90" y2="286.00" stroke="#000" stroke-width="1.1"/>
<path d="M164.90 284.00L168.90 284.00L166.90 291.30Z" fill="#000"/>
<path d="M198.00 218.40H199.20L201.70 223.80H195.50Z" fill="#00ff00"/>
<rect x="197.00" y="221.50" width="1.2" height="1.0" fill="#fff" opacity="0.7"/>
<rect x="199.00" y="221.50" width="1.2" height="1.0" fill="#fff" opacity="0.7"/>
<circle cx="198.60" cy="220.90" r="4.6" fill="none" stroke="#ff0000" stroke-width="1.2"/>
<path d="M256.60 197.50L259.40 200.30L256.60 203.10L253.80 200.30Z" fill="none" stroke="#00ffff" stroke-width="1.4"/>
<line x1="255.20" y1="200.30" x2="258.00" y2="200.30" stroke="#00ffff" stroke-width="0.8"/>
<circle cx="256.60" cy="200.30" r="4.6" fill="none" stroke="#ff0000" stroke-width="1.2"/>
<path d="M263.10 192.80L265.90 195.60L263.10 198.40L260.30 195.60Z" fill="none" stroke="#00ffff" stroke-width="1.4"/>
<line x1="261.70" y1="195.60" x2="264.50" y2="195.60" stroke="#00ffff" stroke-width="0.8"/>
<circle cx="263.10" cy="195.60" r="4.6" fill="none" stroke="#ff0000" stroke-width="1.2"/>
<path d="M261.80 203.30L264.60 206.10L261.80 208.90L259.00 206.10Z" fill="none" stroke="#00ffff" stroke-width="1.4"/>
<line x1="260.40" y1="206.10" x2="263.20" y2="206.10" stroke="#00ffff" stroke-width="0.8"/>
<circle cx="261.80" cy="206.10" r="4.6" fill="none" stroke="#ff0000" stroke-width="1.2"/>
<path d="M283.20 193.50L286.00 196.30L283.20 199.10L280.40 196.30Z" fill="none" stroke="#00ffff" stroke-width="1.4"/>
<line x1="281.80" y1="196.30" x2="284.60" y2="196.30" stroke="#00ffff" stroke-width="0.8"/>
<circle cx="283.20" cy="196.30" r="4.6" fill="none" stroke="#ff0000" stroke-width="1.2"/>
<path d="M297.30 193.20L300.10 196.00L297.30 198.80L294.50 196.00Z" fill="none" stroke="#00ffff" stroke-width="1.4"/>
<line x1="295.90" y1="196.00" x2="298.70" y2="196.00" stroke="#00ffff" stroke-width="0.8"/>
<circle cx="297.30" cy="196.00" r="4.6" fill="none" stroke="#ff0000" stroke-width="1.2"/>
<path d="M295.30 165.00L298.10 167.80L295.30 170.60L292.50 167.80Z" fill="none" stroke="#00ffff" stroke-width="1.4"/>
<line x1="293.90" y1="167.80" x2="296.70" y2="167.80" stroke="#00ffff" stroke-width="0.8"/>
<circle cx="295.30" cy="167.80" r="4.6" fill="none" stroke="#ff0000" stroke-width="1.2"/>
<path d="M303.70 185.10L306.50 187.90L303.70 190.70L300.90 187.90Z" fill="none" stroke="#00ffff" stroke-width="1.4"/>
<line x1="302.30" y1="187.90" x2="305.10" y2="187.90" stroke="#00ffff" stroke-width="0.8"/>
<circle cx="303.70" cy="187.90" r="4.6" fill="none" stroke="#ff0000" stroke-width="1.2"/>
<path d="M303.90 199.40L306.70 202.20L303.90 205.00L301.10 202.20Z" fill="none" stroke="#00ffff" stroke-width="1.4"/>
<line x1="302.50" y1="202.20" x2="305.30" y2="202.20" stroke="#00ffff" stroke-width="0.8"/>
<circle cx="303.90" cy="202.20" r="4.6" fill="none" stroke="#ff0000" stroke-width="1.2"/>
<path d="M346.80 191.90L349.60 194.70L346.80 197.50L344.00 194.70Z" fill="none" stroke="#00ffff" stroke-width="1.4"/>
<line x1="345.40" y1="194.70" x2="348.20" y2="194.70" stroke="#00ffff" stroke-width="0.8"/>
<circle cx="346.80" cy="194.70" r="4.6" fill="none" stroke="#ff0000" stroke-width="1.2"/>
<path d="M137.40 223.20L143.80 229.60M143.80 223.20L137.40 229.60" stroke="#000" stroke-width="1.2" fill="none"/>
<path d="M157.00 227.90L163.40 234.30M163.40 227.90L157.00 234.30" stroke="#000" stroke-width="1.2" fill="none"/>
<path d="M180.00 269.80L186.40 276.20M186.40 269.80L180.00 276.20" stroke="#000" stroke-width="1.2" fill="none"/>
<path d="M193.60 262.90L200.00 269.30M200.00 262.90L193.60 269.30" stroke="#000" stroke-width="1.2" fill="none"/>
<g font-family="Liberation Serif, serif" fill="#000" style="filter:grayscale(1)"><text x="21.6" y="132.67" font-size="12.9" text-anchor="middle" stroke="#000" stroke-width="0.2">3</text>
<text x="28.9" y="132.67" font-size="12.9" text-anchor="middle" stroke="#000" stroke-width="0.2">9</text>
<text x="21.6" y="93.92" font-size="12.9" text-anchor="middle" stroke="#000" stroke-width="0.2">4</text>
<text x="28.9" y="93.92" font-size="12.9" text-anchor="middle" stroke="#000" stroke-width="0.2">0</text>
<text x="21.6" y="55.17" font-size="12.9" text-anchor="middle" stroke="#000" stroke-width="0.2">4</text>
<text x="29.0" y="55.17" font-size="12.9" text-anchor="middle" stroke="#000" stroke-width="0.2">1</text>
<text x="21.6" y="16.42" font-size="12.9" text-anchor="middle" stroke="#000" stroke-width="0.2">4</text>
<text x="28.9" y="16.42" font-size="12.9" text-anchor="middle" stroke="#000" stroke-width="0.2">2</text>
<text x="21.6" y="291.57" font-size="12.9" text-anchor="middle" stroke="#000" stroke-width="0.2">3</text>
<text x="28.9" y="291.57" font-size="12.9" text-anchor="middle" stroke="#000" stroke-width="0.2">9</text>
<text x="21.6" y="252.82" font-size="12.9" text-anchor="middle" stroke="#000" stroke-width="0.2">4</text>
<text x="28.9" y="252.82" font-size="12.9" text-anchor="middle" stroke="#000" stroke-width="0.2">0</text>
<text x="21.6" y="214.07" font-size="12.9" text-anchor="middle" stroke="#000" stroke-width="0.2">4</text>
<text x="29.0" y="214.07" font-size="12.9" text-anchor="middle" stroke="#000" stroke-width="0.2">1</text>
<text x="21.6" y="175.32" font-size="12.9" text-anchor="middle" stroke="#000" stroke-width="0.2">4</text>
<text x="28.9" y="175.32" font-size="12.9" text-anchor="middle" stroke="#000" stroke-width="0.2">2</text>
<text x="85.20" y="333.5" font-size="13.5" text-anchor="middle" stroke="#000" stroke-width="0.2">1</text>
<text x="153.20" y="333.5" font-size="13.5" text-anchor="middle" stroke="#000" stroke-width="0.2">0</text>
<text x="226.00" y="333.5" font-size="13.5" text-anchor="middle" stroke="#000" stroke-width="0.2">1</text>
<text x="299.30" y="333.5" font-size="13.5" text-anchor="middle" stroke="#000" stroke-width="0.2">2</text>
<text transform="translate(108.70,354.70) scale(0.86,1)" x="0" y="0" font-size="18" letter-spacing="-0.581" stroke="#000" stroke-width="0.2">LOG</text>
<text transform="translate(148.30,354.70) scale(1.0,1)" x="0" y="0" font-size="18" letter-spacing="-0.0" stroke="#000" stroke-width="0.15">SFR</text>
<text transform="translate(188.00,354.70) scale(1.0,1)" x="0" y="0" font-size="18" letter-spacing="1.4" stroke="#000" stroke-width="0.15">(M(sun)/yr)</text>
<text transform="translate(197.90,127.00) scale(0.8,1)" x="0" y="0" font-size="13.6" letter-spacing="0.268" stroke="#000" stroke-width="0.15">GALACTIC</text>
<text transform="translate(262.40,127.00) scale(0.8,1)" x="0" y="0" font-size="13.6" letter-spacing="1.181" stroke="#000" stroke-width="0.15">ABSORPTION</text>
<text transform="translate(196.50,286.30) scale(0.8,1)" x="0" y="0" font-size="13.6" letter-spacing="0.982" stroke="#000" stroke-width="0.15">INTERNAL</text>
<text transform="translate(262.90,286.30) scale(0.8,1)" x="0" y="0" font-size="13.6" letter-spacing="1.181" stroke="#000" stroke-width="0.15">ABSORPTION</text>
<text transform="translate(13.60,128.40) rotate(-90) scale(0.78,1)" x="0" y="0" font-size="17.8" letter-spacing="2.244" stroke="#000" stroke-width="0.0">LOG</text>
<text transform="translate(13.60,87.60) rotate(-90)" x="0" y="0" font-size="17.5" textLength="8.0" lengthAdjust="spacingAndGlyphs" stroke="#000" stroke-width="0.0">L</text>
<text transform="translate(18.60,79.90) rotate(-90)" x="0" y="0" font-size="10.6" textLength="6.3" lengthAdjust="spacingAndGlyphs" stroke="#000" stroke-width="0.35">X</text>
<text transform="translate(13.60,72.20) rotate(-90) scale(1.05,1)" x="0" y="0" font-size="17.8" letter-spacing="0.952" stroke="#000" stroke-width="0.0">(gas)</text>
<text transform="translate(13.60,287.00) rotate(-90) scale(0.78,1)" x="0" y="0" font-size="17.8" letter-spacing="2.244" stroke="#000" stroke-width="0.0">LOG</text>
<text transform="translate(13.60,246.20) rotate(-90)" x="0" y="0" font-size="17.5" textLength="8.0" lengthAdjust="spacingAndGlyphs" stroke="#000" stroke-width="0.0">L</text>
<text transform="translate(18.60,238.50) rotate(-90)" x="0" y="0" font-size="10.6" textLength="6.3" lengthAdjust="spacingAndGlyphs" stroke="#000" stroke-width="0.35">X</text>
<text transform="translate(13.60,230.80) rotate(-90) scale(1.05,1)" x="0" y="0" font-size="17.8" letter-spacing="0.952" stroke="#000" stroke-width="0.0">(gas)</text></g>
</svg></body></html>
